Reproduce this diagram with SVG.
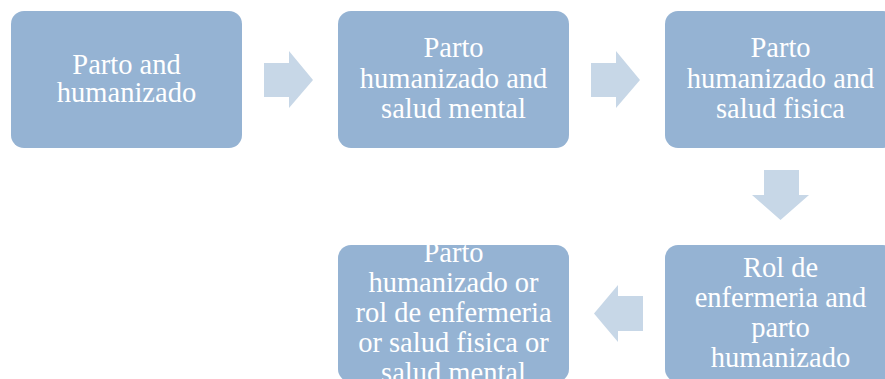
<svg xmlns="http://www.w3.org/2000/svg" width="885" height="379" viewBox="0 0 885 379">
<style>
.box{fill:#95B3D3;}
.arr{fill:#C7D7E7;}
text{font-family:"Liberation Serif","Times New Roman",serif;font-size:28.5px;fill:#FFFFFF;text-anchor:middle;}
</style>
<rect width="885" height="379" fill="#FFFFFF"/>
<g id="connectors">
<polygon class="arr" points="264,63 289,63 289,51 313,80 289,108 289,97 264,97"/>
<polygon class="arr" points="591,63 616,63 616,51 640,80 616,108 616,97 591,97"/>
<polygon class="arr" points="764,170 799,170 799,195 809,195 780.5,220 752,195 764,195"/>
<polygon class="arr" points="643,296 618,296 618,285 594,313.5 618,342 618,331 643,331"/>
</g>
<g id="node1">
<rect class="box" x="11" y="11" width="231" height="137" rx="13"/>
<text x="126.5" y="73.5">Parto and</text>
<text x="126.5" y="102">humanizado</text>
</g>
<g id="node2">
<rect class="box" x="338" y="11" width="231" height="137" rx="13"/>
<text x="453.5" y="57">Parto</text>
<text x="453.5" y="88">humanizado and</text>
<text x="453.5" y="118">salud mental</text>
</g>
<g id="node3">
<rect class="box" x="665" y="11" width="231" height="137" rx="13"/>
<text x="780.5" y="57">Parto</text>
<text x="780.5" y="88">humanizado and</text>
<text x="780.5" y="118">salud fisica</text>
</g>
<g id="node4">
<rect class="box" x="665" y="245" width="231" height="137" rx="13"/>
<text x="780.5" y="277">Rol de</text>
<text x="780.5" y="307">enfermeria and</text>
<text x="780.5" y="337">parto</text>
<text x="780.5" y="367">humanizado</text>
</g>
<g id="node5">
<rect class="box" x="338" y="245" width="231" height="137" rx="13"/>
<text x="453.5" y="262">Parto</text>
<text x="453.5" y="292">humanizado or</text>
<text x="453.5" y="322">rol de enfermeria</text>
<text x="453.5" y="352">or salud fisica or</text>
<text x="453.5" y="382">salud mental</text>
</g>
</svg>
